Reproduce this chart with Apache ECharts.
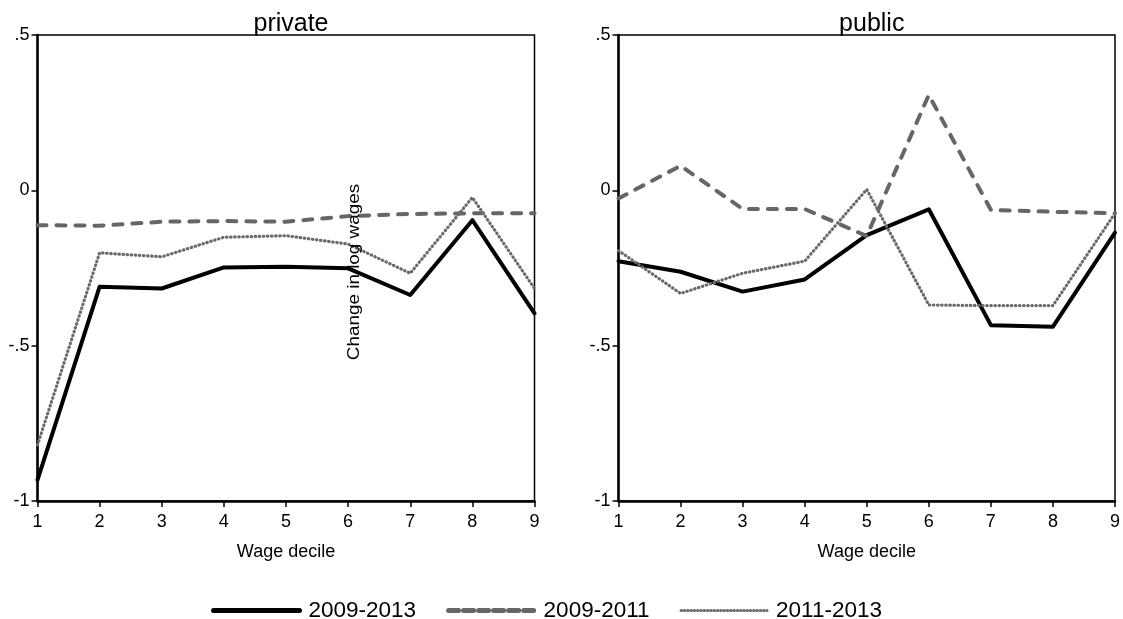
<!DOCTYPE html>
<html>
<head>
<meta charset="utf-8">
<script src="https://cdn.jsdelivr.net/npm/echarts@6/dist/echarts.min.js"></script>
<style>
html,body{margin:0;padding:0;background:#fff;}
#chart{width:1123px;height:619px;}
</style>
</head>
<body>
<div id="chart"></div>
<script>
const deciles = [1, 2, 3, 4, 5, 6, 7, 8, 9];
const panelTitles = ['private', 'public'];
const seriesNames = ['2009-2013', '2009-2011', '2011-2013'];
const yTicks = [-1, -0.5, 0, 0.5];
const yTickLabels = ['-1', '-.5', '0', '.5'];
const xAxisTitle = 'Wage decile';
const yAxisTitle = 'Change in log wages';

// private sector
const private_2009_2013 = [-0.932, -0.310, -0.316, -0.248, -0.246, -0.251, -0.337, -0.096, -0.396];
const private_2009_2011 = [-0.112, -0.114, -0.101, -0.099, -0.101, -0.083, -0.076, -0.074, -0.074];
const private_2011_2013 = [-0.820, -0.201, -0.214, -0.151, -0.146, -0.173, -0.267, -0.023, -0.316];
// public sector
const public_2009_2013 = [-0.228, -0.262, -0.326, -0.287, -0.144, -0.061, -0.434, -0.439, -0.136];
const public_2009_2011 = [-0.026, 0.079, -0.060, -0.060, -0.147, 0.307, -0.063, -0.069, -0.074];
const public_2011_2013 = [-0.194, -0.332, -0.267, -0.228, 0.003, -0.369, -0.371, -0.371, -0.074];

const FONT = '"Liberation Sans", Arial, sans-serif';
const styles = [
  {color: '#000000', width: 4, type: 'solid', cap: 'round', join: 'round'},
  {color: '#666666', width: 4, type: [9, 10], cap: 'round', join: 'round'},
  {color: '#6a6a6a', width: 3.2, type: [0.5, 3.6], cap: 'round', join: 'round'}
];
const legendLine = [
  {color: '#000000', width: 5, type: 'solid', cap: 'round'},
  {color: '#666666', width: 5, type: [10, 5], cap: 'round'},
  {color: '#6e6e6e', width: 3, type: [0.5, 2.8], cap: 'round'}
];
const panelData = [
  [private_2009_2013, private_2009_2011, private_2011_2013],
  [public_2009_2013, public_2009_2011, public_2011_2013]
];
const grids = [
  {left: 37.5, top: 35, width: 497, height: 466},
  {left: 618.5, top: 35, width: 496.5, height: 466}
];

const option = {
  animation: false,
  backgroundColor: '#ffffff',
  title: panelTitles.map((t, i) => ({
    text: t,
    left: grids[i].left + grids[i].width / 2,
    top: 7,
    textAlign: 'center',
    textStyle: {fontFamily: FONT, fontSize: 25, fontWeight: 'normal', color: '#000'}
  })),
  grid: grids.map(g => Object.assign({show: true, borderColor: '#000', borderWidth: 1.5, backgroundColor: 'transparent'}, g)),
  xAxis: grids.map((g, i) => ({
    type: 'value', gridIndex: i, min: 1, max: 9, interval: 1,
    name: xAxisTitle, nameLocation: 'middle', nameGap: 42,
    nameTextStyle: {fontFamily: FONT, fontSize: 18, color: '#000'},
    axisLine: {show: true, onZero: false, lineStyle: {color: '#000', width: 2.5}},
    axisTick: {show: true, length: 6, lineStyle: {color: '#000', width: 1.5}},
    axisLabel: {fontFamily: FONT, fontSize: 18, color: '#000', margin: 12},
    splitLine: {show: false}
  })),
  yAxis: grids.map((g, i) => ({
    type: 'value', gridIndex: i, min: -1, max: 0.5, interval: 0.5,
    axisLine: {show: true, onZero: false, lineStyle: {color: '#000', width: 2.5}},
    axisTick: {show: true, length: 6, lineStyle: {color: '#000', width: 1.5}},
    axisLabel: {fontFamily: FONT, fontSize: 18, color: '#000', margin: 8,
      formatter: v => yTickLabels[yTicks.indexOf(v)]},
    splitLine: {show: false}
  })),
  legend: {
    data: seriesNames.map((n, k) => ({name: n, lineStyle: legendLine[k], itemStyle: {opacity: 0}})),
    left: 206, top: 594,
    itemWidth: 86, itemHeight: 18, itemGap: 30,
    textStyle: {fontFamily: FONT, fontSize: 22.5, color: '#000', padding: [0, 0, 0, 4]}
  },
  graphic: [{
    type: 'text',
    x: 355, y: 272,
    rotation: Math.PI / 2,
    scaleX: 1.18,
    style: {text: yAxisTitle, font: '16px ' + FONT, fill: '#000', align: 'center', verticalAlign: 'middle'},
    z: 100
  }],
  series: []
};

panelData.forEach((sets, p) => {
  sets.forEach((vals, s) => {
    option.series.push({
      name: seriesNames[s],
      type: 'line',
      xAxisIndex: p, yAxisIndex: p,
      data: deciles.map((d, k) => [d, vals[k]]),
      symbol: 'none',
      showSymbol: false,
      lineStyle: styles[s],
      itemStyle: {color: styles[s].color},
      z: 2 + s
    });
  });
});

const chart = echarts.init(document.getElementById('chart'), null, {renderer: 'canvas'});
chart.setOption(option);
</script>
</body>
</html>
